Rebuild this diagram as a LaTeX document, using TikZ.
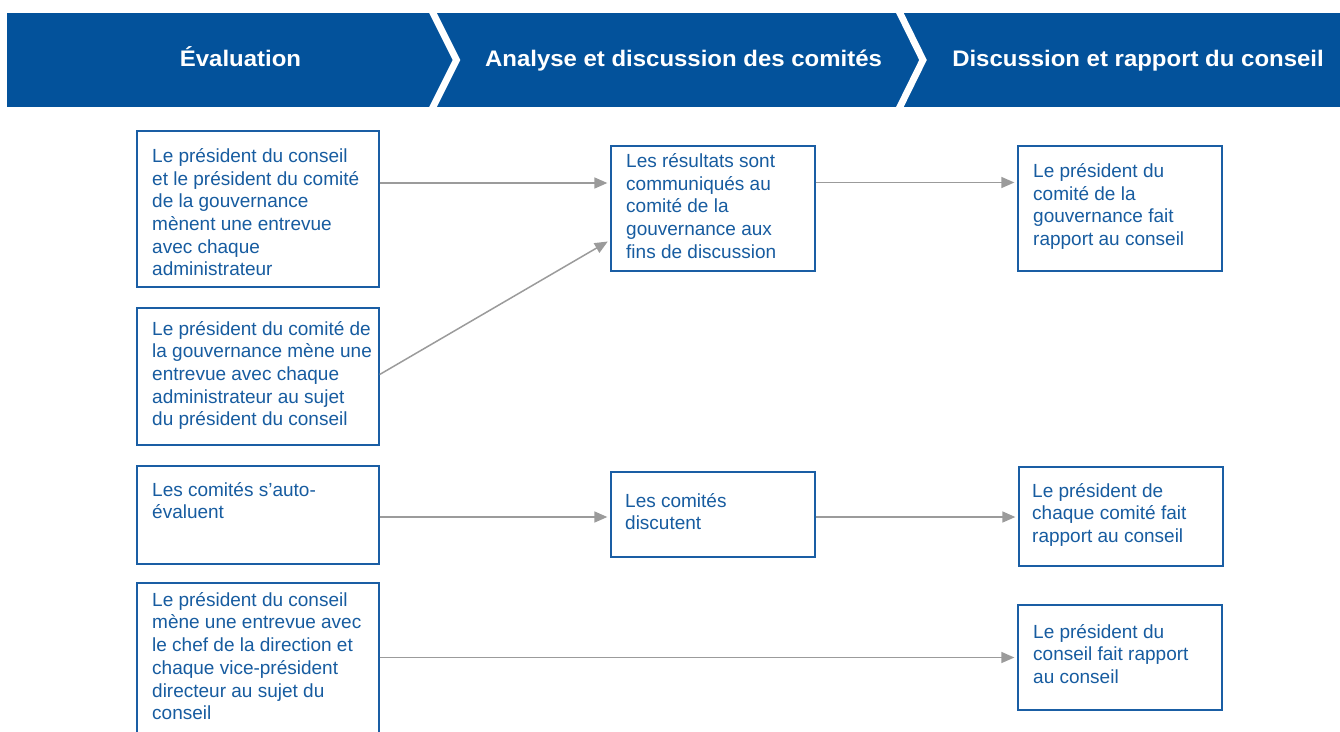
\documentclass[tikz,border=0pt]{standalone}
\usepackage{fontspec}
\setmainfont{Liberation Sans}
\usetikzlibrary{arrows.meta}
\definecolor{bandblue}{HTML}{03529B}
\definecolor{txtblue}{HTML}{175CA0}
\definecolor{boxblue}{HTML}{1A5EA4}
\definecolor{arrgray}{HTML}{9B9B9B}
\tikzset{
  boxnode/.style={draw=boxblue, line width=1.3pt, fill=white, minimum width=#1, inner sep=0pt},
  txt/.style={anchor=north west, inner sep=0pt, align=left, text=txtblue,
    font={\fontsize{19}{22.7}\selectfont}, execute at begin node={\rule{0pt}{15pt}}},
  head/.style={anchor=base, inner sep=0pt, text=white, font={\fontsize{22.5}{27}\selectfont\bfseries}},
  arr/.style={draw=arrgray, line width=1.5pt, -{Triangle[length=13pt,width=11pt]}, shorten >=3pt},
  chev/.style={draw=white, line width=6.8pt, miter limit=10}
}
\newcommand{\hstretch}[1]{\scalebox{1.065}[1]{#1}}
\begin{document}
\begin{tikzpicture}[x=1pt, y=-1pt]
\useasboundingbox (0,0) rectangle (1340,731);
\clip (0,0) rectangle (1340,731);
% header band
\fill[bandblue] (7,13) rectangle (1340,107);
\begin{scope}
\clip (7,13) rectangle (1340,107);
\draw[chev] (425,-3) -- (456.5,60) -- (425,123);
\draw[chev] (892,-3) -- (923,60) -- (892,123);
\end{scope}
\node[head] (h1) at (240.5,66) {\hstretch{Évaluation}};
\node[head] (h2) at (683.5,66) {\hstretch{Analyse et discussion des comités}};
\node[head] (h3) at (1138,66) {\hstretch{Discussion et rapport du conseil}};
% boxes
\node[boxnode=242pt, minimum height=156pt] (b1) at (258,209) {};
\node[boxnode=242pt, minimum height=137pt] (b2) at (258,376.5) {};
\node[boxnode=242pt, minimum height=98pt] (b3) at (258,515) {};
\node[boxnode=242pt, minimum height=162pt] (b4) at (258,664) {};
\node[boxnode=204pt, minimum height=125pt] (bA) at (713,208.5) {};
\node[boxnode=204pt, minimum height=85pt] (bB) at (713,514.5) {};
\node[boxnode=204pt, minimum height=125pt] (bR1) at (1120,208.5) {};
\node[boxnode=204pt, minimum height=99pt] (bR2) at (1121,516.5) {};
\node[boxnode=204pt, minimum height=105pt] (bR3) at (1120,657.5) {};
% texts
\node[txt] (t1) at (152,148.3) {Le président du conseil\\et le président du comité\\de la gouvernance\\mènent une entrevue\\avec chaque\\administrateur};
\node[txt] (t2) at (152,321) {Le président du comité de\\la gouvernance mène une\\entrevue avec chaque\\administrateur au sujet\\du président du conseil};
\node[txt] (t3) at (152,482) {Les comités s’auto-\\évaluent};
\node[txt] (t4) at (152,592) {Le président du conseil\\mène une entrevue avec\\le chef de la direction et\\chaque vice-président\\directeur au sujet du\\conseil};
\node[txt] (tA) at (626,153.3) {Les résultats sont\\communiqués au\\comité de la\\gouvernance aux\\fins de discussion};
\node[txt] (tB) at (625,493) {Les comités\\discutent};
\node[txt] (tR1) at (1033,163.3) {Le président du\\comité de la\\gouvernance fait\\rapport au conseil};
\node[txt] (tR2) at (1032,483) {Le président de\\chaque comité fait\\rapport au conseil};
\node[txt] (tR3) at (1033,624) {Le président du\\conseil fait rapport\\au conseil};
% arrows
\draw[arr] ([yshift=26pt]b1.east) -- ([yshift=26pt]b1.east -| bA.west);
\draw[arr] ([yshift=2pt]b2.east) -- ([yshift=-31.5pt]bA.west);
\draw[arr] ([yshift=26pt]bA.east) -- ([yshift=26pt]bA.east -| bR1.west);
\draw[arr] ([yshift=-2pt]b3.east) -- ([yshift=-2pt]b3.east -| bB.west);
\draw[arr] ([yshift=-2.5pt]bB.east) -- ([yshift=-2.5pt]bB.east -| bR2.west);
\draw[arr] (bR3.west -| b4.east) -- (bR3.west);
\end{tikzpicture}
\end{document}
